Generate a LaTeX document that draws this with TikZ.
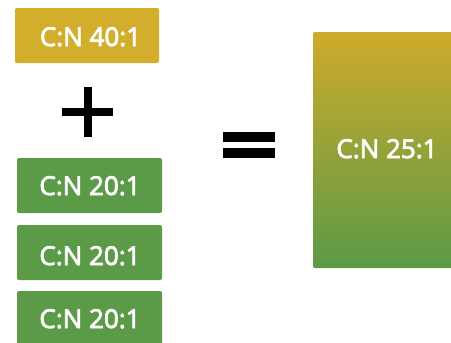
\documentclass[tikz,border=0pt]{standalone}
\usepackage{fontspec}
\setmainfont{Open Sans}
\begin{document}
\begin{tikzpicture}[x=1pt,y=-1pt,
  yellowc/.style={fill=cnyellow,draw=none,rounded corners=2pt},
  greenc/.style={fill=cngreen,draw=none,rounded corners=2pt},
  lbl/.style={text=white,anchor=base,inner sep=0pt,font=\fontsize{26}{31}\selectfont\addfontfeatures{FakeBold=3}},
  bar/.style={fill=black,draw=none}]
\definecolor{cnyellow}{HTML}{D3AE2C}
\definecolor{cngreen}{HTML}{5B9A46}
\useasboundingbox (0,0) rectangle (451,343);
\fill[white] (0,0) rectangle (451,343);
% left boxes
\filldraw[yellowc] (15,8) rectangle (159,63);
\node[lbl] (y1) at (90.5,46) {C:N 40:1};
\filldraw[greenc] (17,158) rectangle (162,213);
\node[lbl] (g1) at (90,195) {C:N 20:1};
\filldraw[greenc] (17,225) rectangle (162,280);
\node[lbl] (g2) at (90,265) {C:N 20:1};
\filldraw[greenc] (17,291) rectangle (162,346);
\node[lbl] (g3) at (90,328) {C:N 20:1};
% plus
\fill[bar] (62,108) rectangle (113,116);
\fill[bar] (84,87) rectangle (92,137);
% equals
\fill[bar] (223,132) rectangle (275,142);
\fill[bar] (223,148) rectangle (275,158);
% big box
\shade[top color=cnyellow!98!black, bottom color=cngreen, rounded corners=2pt] (313,32) rectangle (455,268);
\node[lbl] (big) at (387,158) {C:N 25:1};
\end{tikzpicture}
\end{document}
